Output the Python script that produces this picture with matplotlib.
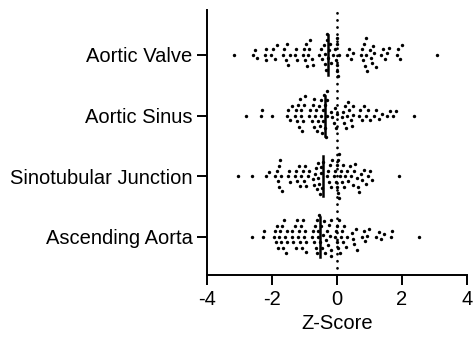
import matplotlib
matplotlib.use("Agg")
import matplotlib.pyplot as plt
import numpy as np

plt.rcParams['font.family'] = ['Liberation Sans', 'DejaVu Sans']

categories = ["Aortic Valve", "Aortic Sinus", "Sinotubular Junction", "Ascending Aorta"]

aortic_valve = [
    -3.18,
    -2.60, -2.52, -2.45,
    -2.22, -2.20, -2.18,
    -2.02, -1.98, -1.92, -1.86,
    -1.66, -1.62, -1.58, -1.54, -1.50, -1.46,
    -1.28, -1.25, -1.22,
    -1.05, -1.02, -0.98, -0.95, -0.92, -0.88, -0.85, -0.82, -0.78, -0.75,
    -0.55, -0.50, -0.45, -0.40,
    -0.38, -0.36, -0.34, -0.32, -0.30, -0.28, -0.26, -0.22, -0.18, -0.12,
    -0.05, -0.03, 0.0, 0.0, 0.0, 0.0, 0.02, 0.05,
    0.30, 0.36, 0.42, 0.48,
    0.73, 0.76, 0.80, 0.82, 0.85, 0.88, 0.90, 0.92,
    1.00, 1.05, 1.08, 1.12, 1.15, 1.20,
    1.35, 1.42, 1.48, 1.55, 1.60,
    1.85, 1.88, 1.95, 2.00,
    3.08,
]

aortic_sinus = [
    -2.81,
    -2.34, -2.30,
    -2.00,
    -1.55, -1.50, -1.45, -1.40,
    -1.30, -1.27, -1.24, -1.20, -1.18, -1.15, -1.12, -1.10, -1.08, -1.05, -1.02, -1.00,
    -0.85, -0.82, -0.78, -0.75, -0.72, -0.70, -0.68, -0.65, -0.62, -0.60,
    -0.55, -0.52, -0.50, -0.48, -0.46, -0.44, -0.42, -0.40, -0.38, -0.36, -0.34, -0.32, -0.30, -0.30,
    -0.20, -0.15, -0.10, -0.06, -0.03, 0.0,
    0.15, 0.18, 0.22, 0.25, 0.28, 0.32, 0.35, 0.38, 0.42, 0.45, 0.48, 0.50,
    0.67, 0.72, 0.78, 0.82, 0.88, 0.94, 1.00,
    1.13, 1.20, 1.28, 1.37,
    1.53, 1.62, 1.72, 1.83,
    2.38,
]

sinotubular = [
    -3.05,
    -2.63,
    -2.20, -2.10,
    -1.90, -1.86, -1.82, -1.80, -1.77, -1.74, -1.72, -1.70,
    -1.50, -1.47, -1.44,
    -1.30, -1.26, -1.22, -1.18, -1.14, -1.10, -1.06, -1.02, -0.98, -0.94, -0.90, -0.86,
    -0.75, -0.72, -0.68, -0.65, -0.62, -0.60, -0.57, -0.55, -0.52, -0.50, -0.48, -0.45,
    -0.42, -0.30, -0.27, -0.24, -0.21, -0.18, -0.14, -0.10, -0.06, -0.03,
    0.0, 0.0, 0.02, 0.03, 0.05, 0.06, 0.08, 0.12,
    0.14, 0.18, 0.22, 0.26, 0.30, 0.34,
    0.40, 0.44, 0.48, 0.52, 0.56, 0.60, 0.64, 0.67,
    0.73, 0.78, 0.83, 0.88, 0.94, 1.00,
    1.07,
    1.90,
]

ascending = [
    -2.63,
    -2.28, -2.24,
    -1.95, -1.92, -1.88, -1.85, -1.83,
    -1.77, -1.74, -1.71, -1.68, -1.65, -1.62, -1.60, -1.58, -1.55, -1.53,
    -1.40, -1.37, -1.34, -1.30, -1.27, -1.24, -1.20, -1.17, -1.14, -1.10, -1.07, -1.04,
    -1.01, -0.98, -0.96, -0.95,
    -0.76, -0.74, -0.71, -0.68, -0.66, -0.63, -0.61, -0.59, -0.57, -0.55,
    -0.52, -0.49, -0.46, -0.43, -0.40, -0.37, -0.34, -0.31, -0.28, -0.25, -0.22, -0.20, -0.18, -0.18,
    -0.05, -0.02, 0.0, 0.0, 0.02, 0.05,
    0.08, 0.12, 0.15, 0.18, 0.22, 0.27, 0.32,
    0.46, 0.50, 0.53, 0.57, 0.60,
    0.76, 0.82, 0.87, 0.93, 0.98,
    1.20, 1.28, 1.36, 1.45,
    1.66, 1.70,
    2.53,
]

groups = [aortic_valve, aortic_sinus, sinotubular, ascending]
ypos = [3, 2, 1, 0]


def swarm_offsets(xpix, d):
    # simple beeswarm: each point goes to the smallest vertical offset that does not overlap
    order = np.argsort(xpix)
    placed = []
    offs = np.zeros(len(xpix))
    steps = np.arange(0.5, 40, 0.5)
    cands = np.concatenate([[0], np.column_stack([steps, -steps]).ravel()])
    for i in order:
        x = xpix[i]
        near = [(px, py) for px, py in placed if abs(px - x) < d]
        for c in cands:
            if all((px - x) ** 2 + (py - c) ** 2 >= d * d for px, py in near):
                offs[i] = c
                break
        placed.append((x, offs[i]))
    return offs


fig = plt.figure(figsize=(4.73, 3.38), dpi=100)
ax = fig.add_axes([207 / 473, (338 - 275) / 338, 260 / 473, 265 / 338])
ax.set_xlim(-4, 4)
ax.set_ylim(-0.63, 3.74)

ax.axvline(0, color='black', lw=2, linestyle=(0, (0.05, 2.5)), dash_capstyle='round', zorder=1)

for vals, y in zip(groups, ypos):
    vals = np.array(vals)
    pts = ax.transData.transform(np.column_stack([vals, np.full(len(vals), y)]))
    offs = swarm_offsets(pts[:, 0], 5.5)
    back = ax.transData.inverted().transform(np.column_stack([pts[:, 0], pts[:, 1] + offs]))
    ax.scatter(back[:, 0], back[:, 1], s=6, color='black', linewidths=0, zorder=3)
    med = np.median(vals)
    ax.plot([med, med], [y - 0.33, y + 0.33], color='black', lw=1.8, zorder=4)

ax.set_yticks(ypos)
ax.set_yticklabels(categories)
ax.set_xticks([-4, -2, 0, 2, 4])
ax.set_xticklabels(['-4', '-2', '0', '2', '4'])
ax.set_xlabel('Z-Score', fontsize=14.5, labelpad=4)
ax.tick_params(labelsize=14.5, width=1.4, length=7, color='black')
for s in ['top', 'right']:
    ax.spines[s].set_visible(False)
for s in ['left', 'bottom']:
    ax.spines[s].set_linewidth(1.4)

fig.savefig('out.png', dpi=100)
